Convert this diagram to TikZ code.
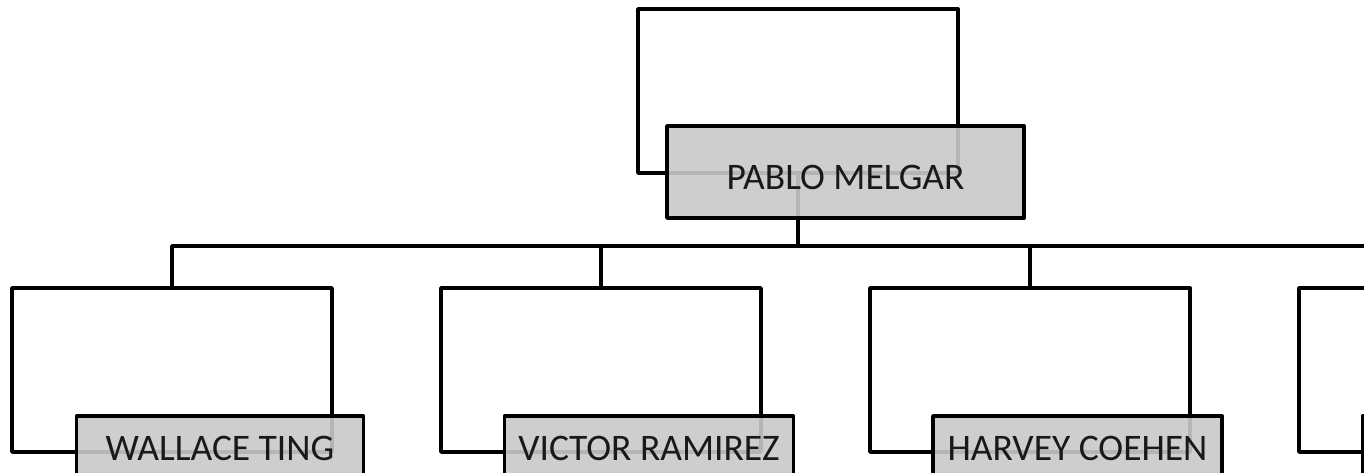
\documentclass[tikz,border=0pt]{standalone}
\usepackage{fontspec}
\setmainfont{Carlito}
\begin{document}
\begin{tikzpicture}[x=1pt,y=-1pt,
  line width=3.8pt, line join=round,
  card/.style={draw=black, fill=white, minimum width=320pt, minimum height=164pt,
    inner sep=0pt, outer sep=0pt, rectangle},
  namebox/.style={draw=black, fill=black!21, fill opacity=0.9, text opacity=1,
    text=black!90, inner sep=0pt, outer sep=0pt, rectangle,
    font=\fontsize{37.5}{42}\selectfont},
  link/.style={draw=black}
]
\useasboundingbox (0,0) rectangle (1364,472);
\clip (0,0) rectangle (1364,472);
% white cards
\node[card] (pw) at (798,91) {};
\node[card] (w1) at (172,370) {};
\node[card] (w2) at (601,370) {};
\node[card] (w3) at (1030,370) {};
\node[card] (w4) at (1459,370) {};
% connectors
\coordinate (bus) at (798,246);
\draw[link] (pw.south) -- (bus);
\draw[link] (bus) -| (w1.north);
\draw[link] (bus) -| (w2.north);
\draw[link] (bus) -| (w3.north);
\draw[link] (bus) -| (w4.north);
% name boxes
\node[namebox, minimum width=357pt, minimum height=92pt] (p) at (845.5,172) {\raisebox{-5pt}[\height][\depth]{PABLO MELGAR}};
\node[namebox, minimum width=287pt, minimum height=64pt] (c1) at (220,448) {WALLACE TING};
\node[namebox, minimum width=289pt, minimum height=64pt] (c2) at (649,448) {VICTOR RAMIREZ};
\node[namebox, minimum width=289pt, minimum height=64pt] (c3) at (1077.5,448) {HARVEY COEHEN};
\node[namebox, minimum width=289pt, minimum height=64pt] (c4) at (1507,448) {};
\end{tikzpicture}
\end{document}
